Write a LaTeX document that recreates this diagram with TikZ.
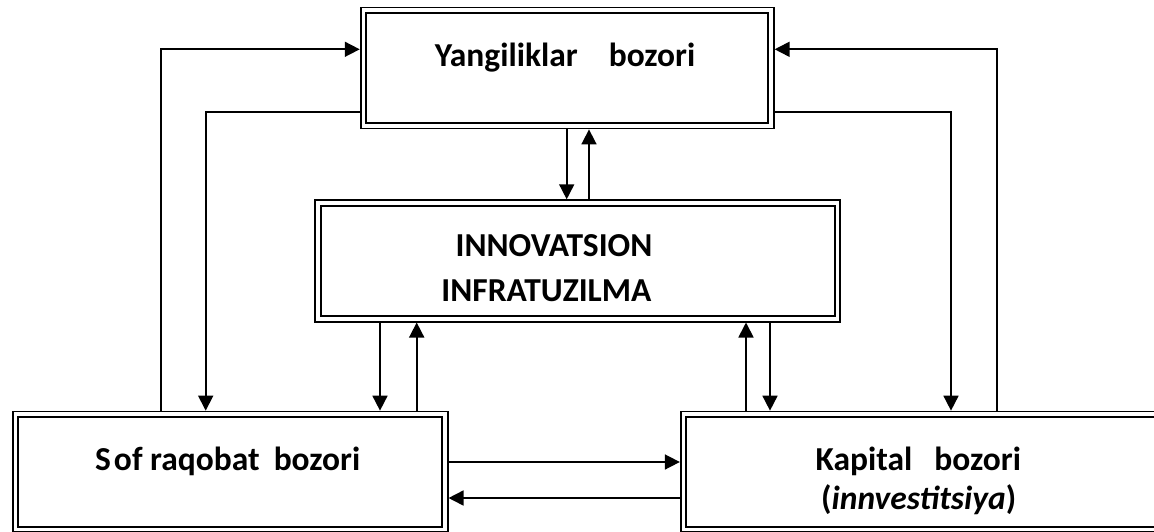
\documentclass[tikz,border=0pt]{standalone}
\usepackage{fontspec}
\setmainfont{Carlito}
\usetikzlibrary{arrows.meta}
\begin{document}
\begin{tikzpicture}[x=1pt,y=-1pt,
  dbox/.style={draw, double, line width=1.8pt, double distance=3.7pt, outer sep=3.65pt, inner sep=0pt, rectangle, anchor=center},
  lbl/.style={font=\fontsize{33.5pt}{40pt}\selectfont\bfseries, inner sep=0pt, anchor=base},
  conn/.style={line width=1.7pt},
  arr/.style={conn, -{Triangle[length=15pt,width=15pt]}}]
\useasboundingbox (0,0) rectangle (1154,531);
\clip (0,0) rectangle (1154,531);
% boxes
\node[dbox, minimum width=407.6pt, minimum height=115.5pt] (top) at (567.2,68) {};
\node[dbox, minimum width=519.5pt, minimum height=115.9pt] (mid) at (577.75,260.9) {};
\node[dbox, minimum width=429.4pt, minimum height=115.2pt] (sl) at (230.2,471.9) {};
\node[dbox, minimum width=486.5pt, minimum height=115.2pt] (kb) at (926.75,471.9) {};
% labels
\node[lbl] (t1) at (565,66) {Yangiliklar\hspace{31pt}bozori};
\node[lbl] (t2) at (554,256.7) {INNOVATSION};
\node[lbl] (t3) at (546.4,301) {INFRATUZILMA};
\node[lbl] (t4) at (227.7,470) {S\kern3pt of raqobat\hspace{14pt}bozori};
\node[lbl] (t5) at (918.3,470) {Kapital\hspace{22pt}bozori};
\node[lbl] (t6) at (918.7,509.3) {(\textit{innvestitsiya})};
% helper coordinates
\coordinate (a1) at (160.7,49.3);
\coordinate (a2) at (205.7,112);
\coordinate (a3) at (996.7,49.3);
\coordinate (a4) at (951,112.3);
\coordinate (v1) at (566.7,0);
\coordinate (v2) at (589,0);
\coordinate (v3) at (380,0);
\coordinate (v4) at (416.7,0);
\coordinate (v5) at (746,0);
\coordinate (v6) at (770,0);
\coordinate (h1) at (0,462);
\coordinate (h2) at (0,498);
% connectors
\draw[arr] (sl.north -| a1) |- (top.west |- a1);
\draw[arr] (top.west |- a2) -| (sl.north -| a2);
\draw[arr] (kb.north -| a3) |- (top.east |- a3);
\draw[arr] (top.east |- a4) -| (kb.north -| a4);
\draw[arr] (top.south -| v1) -- (mid.north -| v1);
\draw[arr] (mid.north -| v2) -- (top.south -| v2);
\draw[arr] (mid.south -| v3) -- (sl.north -| v3);
\draw[arr] (sl.north -| v4) -- (mid.south -| v4);
\draw[arr] (kb.north -| v5) -- (mid.south -| v5);
\draw[arr] (mid.south -| v6) -- (kb.north -| v6);
\draw[arr] (sl.east |- h1) -- (kb.west |- h1);
\draw[arr] (kb.west |- h2) -- (sl.east |- h2);
\end{tikzpicture}
\end{document}
